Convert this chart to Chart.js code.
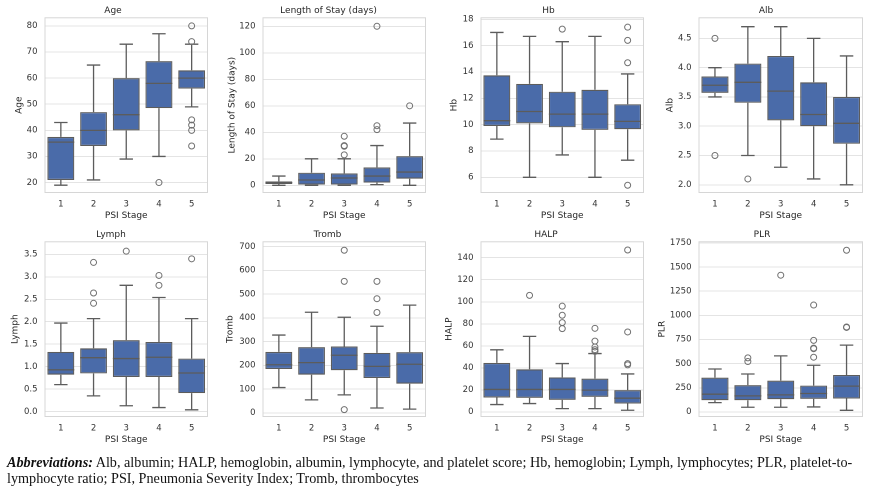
<!DOCTYPE html>
<html><head><meta charset="utf-8">
<script src="https://cdn.jsdelivr.net/npm/chart.js@4.4.0/dist/chart.umd.min.js"></script>
<style>
html,body{margin:0;padding:0;background:#fff;width:881px;height:487px;overflow:hidden;}
canvas{position:absolute;display:block;}
.caption{position:absolute;left:7px;top:454px;font-family:"Liberation Serif",serif;font-size:14.2px;line-height:16px;color:#111;white-space:nowrap;}
</style></head><body>
<canvas id="c1"></canvas><canvas id="c2"></canvas><canvas id="c3"></canvas><canvas id="c4"></canvas>
<canvas id="c5"></canvas><canvas id="c6"></canvas><canvas id="c7"></canvas><canvas id="c8"></canvas>
<div class="caption"><b><i>Abbreviations:</i></b> Alb, albumin; HALP, hemoglobin, albumin, lymphocyte, and platelet score; Hb, hemoglobin; Lymph, lymphocytes; PLR, platelet-to-<br>lymphocyte ratio; PSI, Pneumonia Severity Index; Tromb, thrombocytes</div>
<script>
const stages = ['1','2','3','4','5'];

const ageLow  = [19, 21, 29, 30, 49];
const ageQ1   = [21, 34, 40, 48.5, 56];
const ageMed  = [35.5, 40, 46, 58, 60];
const ageQ3   = [37.5, 47, 60, 66.5, 63];
const ageHigh = [43, 65, 73, 77, 73];
const ageOut  = [[], [], [], [20], [80, 74, 44, 42, 40, 34]];
const ageTicks = [20, 30, 40, 50, 60, 70, 80];

const losLow  = [0, 0, 0, 0.5, 0];
const losQ1   = [1, 0.5, 0.5, 2, 5];
const losMed  = [2, 4, 5.5, 7, 10];
const losQ3   = [3, 9.5, 9, 13.5, 22];
const losHigh = [7, 20, 20, 30, 47];
const losOut  = [[], [], [23, 29.5, 30, 37], [42, 45, 120], [60]];
const losTicks = [0, 20, 40, 60, 80, 100, 120];

const hbLow  = [8.9, 6, 7.7, 6, 7.3];
const hbQ1   = [9.9, 10.1, 9.8, 9.6, 9.65];
const hbMed  = [10.3, 11, 10.8, 10.8, 10.25];
const hbQ3   = [13.75, 13.1, 12.5, 12.65, 11.55];
const hbHigh = [17, 16.7, 16.3, 16.7, 13.85];
const hbOut  = [[], [], [17.25], [], [17.4, 16.4, 14.7, 5.4]];
const hbTicks = [6, 8, 10, 12, 14, 16, 18];

const albLow  = [3.5, 2.5, 2.3, 2.1, 2.0];
const albQ1   = [3.57, 3.4, 3.1, 3.0, 2.7];
const albMed  = [3.7, 3.75, 3.6, 3.2, 3.05];
const albQ3   = [3.85, 4.07, 4.2, 3.75, 3.5];
const albHigh = [4.0, 4.7, 4.7, 4.5, 4.2];
const albOut  = [[4.5, 2.5], [2.1], [], [], []];
const albTicks = [2.0, 2.5, 3.0, 3.5, 4.0, 4.5];

const lymLow  = [0.6, 0.35, 0.13, 0.09, 0.04];
const lymQ1   = [0.82, 0.85, 0.77, 0.77, 0.41];
const lymMed  = [0.93, 1.2, 1.18, 1.21, 0.86];
const lymQ3   = [1.33, 1.41, 1.59, 1.55, 1.18];
const lymHigh = [1.97, 2.07, 2.81, 2.54, 2.07];
const lymOut  = [[], [3.32, 2.64, 2.41], [3.57], [3.03, 2.81], [3.4]];
const lymTicks = [0, 0.5, 1.0, 1.5, 2.0, 2.5, 3.0, 3.5];

const trLow  = [107, 55, 76, 21, 16];
const trQ1   = [185, 161, 180, 147, 123];
const trMed  = [203, 212, 243, 196, 205];
const trQ3   = [257, 277, 280, 253, 256];
const trHigh = [328, 424, 403, 365, 454];
const trOut  = [[], [], [685, 554, 14], [554, 481, 423], []];
const trTicks = [0, 100, 200, 300, 400, 500, 600, 700];

const halpLow  = [6.7, 7.6, 3, 3, 1.5];
const halpQ1   = [13.1, 12.8, 11, 13.7, 7.6];
const halpMed  = [20.4, 20.4, 20.4, 19.8, 12.5];
const halpQ3   = [44.5, 38.7, 31.4, 30.2, 19.8];
const halpHigh = [56.4, 68.6, 43.9, 53, 34.5];
const halpOut  = [[], [105.8], [96, 87.8, 81.1, 75.6], [75.9, 64.3, 59, 56.5, 55], [147, 72.6, 43.9, 42.7]];
const halpTicks = [0, 20, 40, 60, 80, 100, 120, 140];

const plrLow  = [97, 49, 49, 52, 17];
const plrQ1   = [122, 122, 132, 136, 139];
const plrMed  = [184, 167, 177, 191, 268];
const plrQ3   = [355, 278, 324, 273, 383];
const plrHigh = [445, 393, 581, 484, 692];
const plrOut  = [[], [560, 522], [1416], [1107, 741, 661, 655, 567], [1674, 880, 875]];
const plrTicks = [0, 250, 500, 750, 1000, 1250, 1500, 1750];

Chart.defaults.font.family = 'DejaVu Sans';
Chart.defaults.color = '#333';

const FILL = '#4a6ba9', EDGE = '#5c5c5c', TXT = '#262626';

const boxPlugin = {
  id: 'boxParts',
  beforeDatasetsDraw(chart, args, o) {
    const ctx = chart.ctx, a = chart.chartArea, y = chart.scales.y;
    ctx.save();
    ctx.strokeStyle = '#d6d6d6'; ctx.lineWidth = 1;
    ctx.strokeRect(a.left + 0.5, a.top + 0.5, a.right - a.left - 1, a.bottom - a.top - 1);
    ctx.strokeStyle = EDGE; ctx.lineWidth = 1.3;
    const meta = chart.getDatasetMeta(0);
    meta.data.forEach((bar, i) => {
      const p = bar.getProps(['x', 'width'], true);
      const cap = p.width * 0.25;
      const yl = y.getPixelForValue(o.low[i]), yh = y.getPixelForValue(o.high[i]);
      const y1 = y.getPixelForValue(o.q1[i]), y3 = y.getPixelForValue(o.q3[i]);
      ctx.beginPath();
      ctx.moveTo(p.x, y1); ctx.lineTo(p.x, yl);
      ctx.moveTo(p.x - cap, yl); ctx.lineTo(p.x + cap, yl);
      ctx.moveTo(p.x, y3); ctx.lineTo(p.x, yh);
      ctx.moveTo(p.x - cap, yh); ctx.lineTo(p.x + cap, yh);
      ctx.stroke();
    });
    ctx.restore();
  },
  afterDatasetsDraw(chart, args, o) {
    const ctx = chart.ctx, y = chart.scales.y;
    ctx.save();
    ctx.strokeStyle = EDGE; ctx.lineWidth = 1.3;
    chart.getDatasetMeta(0).data.forEach((bar, i) => {
      const p = bar.getProps(['x', 'width'], true);
      const ym = y.getPixelForValue(o.med[i]);
      ctx.beginPath();
      ctx.moveTo(p.x - p.width / 2, ym); ctx.lineTo(p.x + p.width / 2, ym);
      ctx.stroke();
    });
    ctx.restore();
  }
};

function makePanel(id, title, yTitle, low, q1, med, q3, high, out, ticks, ymin, ymax, dec, g) {
  const cv = document.getElementById(id);
  cv.width = g.w; cv.height = g.h;
  cv.style.left = g.x + 'px'; cv.style.top = g.y + 'px';
  cv.style.width = g.w + 'px'; cv.style.height = g.h + 'px';
  const outPts = [];
  out.forEach((arr, i) => arr.forEach(v => outPts.push({ x: stages[i], y: v })));
  new Chart(cv, {
    data: {
      labels: stages,
      datasets: [
        { type: 'bar', data: q1.map((v, i) => [v, q3[i]]), backgroundColor: FILL, borderColor: EDGE,
          borderWidth: 1.2, borderSkipped: false, barPercentage: 0.82, categoryPercentage: 1 },
        { type: 'line', data: outPts, showLine: false, pointStyle: 'circle', pointRadius: 3,
          pointBorderWidth: 1, pointBorderColor: '#707070', pointBackgroundColor: 'rgba(255,255,255,0)' }
      ]
    },
    options: {
      responsive: false, animation: false, devicePixelRatio: 2,
      layout: { padding: { left: 0, right: 1, top: 0, bottom: 0 } },
      plugins: {
        legend: { display: false }, tooltip: { enabled: false },
        title: { display: true, text: title, color: TXT, font: { size: 9, weight: 'normal' }, padding: { top: 5.3, bottom: 1.2 } },
        boxParts: { low, q1, med, q3, high }
      },
      scales: {
        x: {
          type: 'category', offset: true,
          grid: { display: false, drawTicks: false }, border: { display: false },
          ticks: { font: { size: 8.5 }, color: '#333', padding: 6 },
          title: { display: true, text: 'PSI Stage', color: TXT, font: { size: 9 }, padding: { top: 0, bottom: 4 } },
          afterFit(s) { s.height = 32; }
        },
        y: {
          type: 'linear', min: ymin, max: ymax,
          afterBuildTicks(s) { s.ticks = ticks.map(v => ({ value: v })); },
          grid: { color: '#e4e4e4', drawTicks: false, lineWidth: 1 }, border: { display: false },
          ticks: { font: { size: 8.5 }, color: '#333', padding: 7, autoSkip: false,
            callback: v => dec ? Number(v).toFixed(dec) : String(v) },
          title: { display: true, text: yTitle, color: TXT, font: { size: 9 }, padding: 0 },
          afterFit(s) { s.width = g.yw; }
        }
      }
    },
    plugins: [boxPlugin]
  });
}

function geom(titleC, plotLeft, plotRight, top) {
  const x = Math.round(titleC - 5.4);
  return { x, y: top, w: Math.round(plotRight - x) + 1, h: 225, yw: plotLeft - x };
}

makePanel('c1', 'Age', 'Age', ageLow, ageQ1, ageMed, ageQ3, ageHigh, ageOut, ageTicks, 16.0, 83.3, 0, geom(19, 44.5, 211.7, 0));
makePanel('c2', 'Length of Stay (days)', 'Length of Stay (days)', losLow, losQ1, losMed, losQ3, losHigh, losOut, losTicks, -5.8, 126.8, 0, geom(232, 262.5, 429.5, 0));
makePanel('c3', 'Hb', 'Hb', hbLow, hbQ1, hbMed, hbQ3, hbHigh, hbOut, hbTicks, 4.81, 18.15, 0, geom(454, 480.5, 648, 0));
makePanel('c4', 'Alb', 'Alb', albLow, albQ1, albMed, albQ3, albHigh, albOut, albTicks, 1.86, 4.86, 1, geom(670, 698.5, 866.5, 0));
makePanel('c5', 'Lymph', 'Lymph', lymLow, lymQ1, lymMed, lymQ3, lymHigh, lymOut, lymTicks, -0.12, 3.79, 1, geom(15.7, 44.5, 211.7, 224));
makePanel('c6', 'Tromb', 'Tromb', trLow, trQ1, trMed, trQ3, trHigh, trOut, trTicks, -17, 722.6, 0, geom(230, 262.5, 429.5, 224));
makePanel('c7', 'HALP', 'HALP', halpLow, halpQ1, halpMed, halpQ3, halpHigh, halpOut, halpTicks, -4.6, 154.9, 0, geom(449.3, 480.5, 648, 224));
makePanel('c8', 'PLR', 'PLR', plrLow, plrQ1, plrMed, plrQ3, plrHigh, plrOut, plrTicks, -52, 1767, 0, geom(662.7, 698.5, 866.5, 224));
</script>
</body></html>
